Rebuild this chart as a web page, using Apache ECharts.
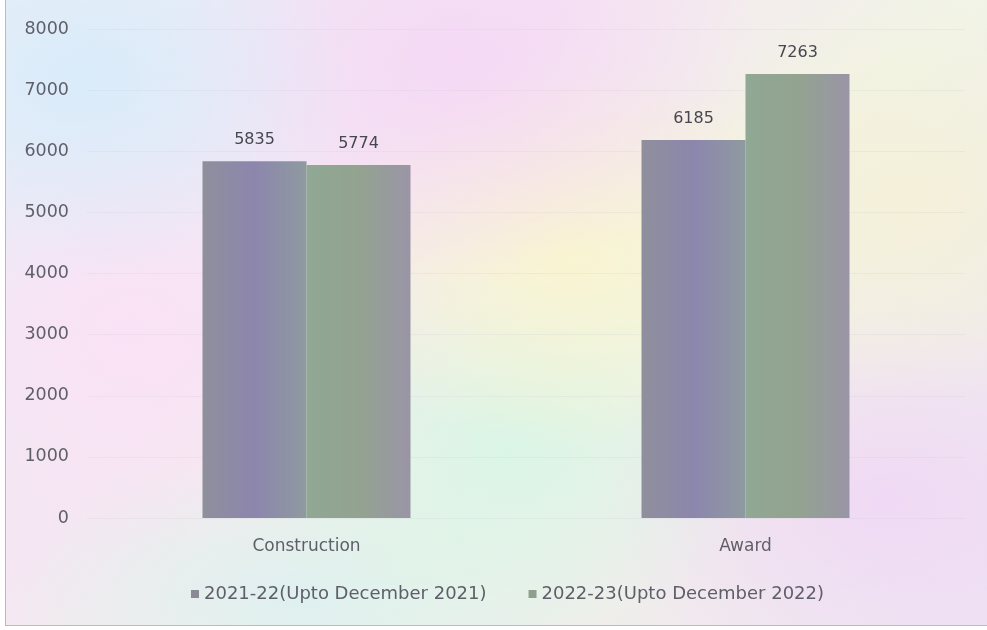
<!DOCTYPE html>
<html>
<head>
<meta charset="utf-8">
<script src="https://cdn.jsdelivr.net/npm/echarts@6/dist/echarts.min.js"></script>
<style>
html,body{margin:0;padding:0;width:987px;height:630px;overflow:hidden;background:#fff;}
#wrap{position:absolute;left:5px;top:0;width:981px;height:625px;border-left:1px solid #bbb;border-bottom:1px solid #bbb;
background:
 radial-gradient(ellipse 260px 200px at 80px 80px, rgba(215,235,250,0.9), rgba(215,235,250,0) 100%),
 radial-gradient(ellipse 300px 220px at 450px 60px, rgba(245,215,245,0.9), rgba(245,215,245,0) 100%),
 radial-gradient(ellipse 250px 200px at 560px 250px, rgba(250,245,205,0.9), rgba(250,245,205,0) 100%),
 radial-gradient(ellipse 250px 220px at 120px 330px, rgba(250,225,245,0.9), rgba(250,225,245,0) 100%),
 radial-gradient(ellipse 260px 200px at 500px 450px, rgba(215,245,230,0.9), rgba(215,245,230,0) 100%),
 radial-gradient(ellipse 260px 200px at 900px 200px, rgba(245,240,215,0.9), rgba(245,240,215,0) 100%),
 radial-gradient(ellipse 300px 200px at 880px 500px, rgba(240,215,245,0.9), rgba(240,215,245,0) 100%),
 radial-gradient(ellipse 300px 150px at 300px 600px, rgba(220,240,240,0.9), rgba(220,240,240,0) 100%),
 linear-gradient(135deg,#eaf0f8,#f5e6f3 35%,#f1f4e6 60%,#efe4f4);}
#chart{position:absolute;left:-5px;top:0;width:987px;height:630px;}
</style>
</head>
<body>
<div id="wrap"><div id="chart"></div></div>
<script>
const categories = ["Construction", "Award"];
const seriesNames = ["2021-22(Upto December 2021)", "2022-23(Upto December 2022)"];
const values2021 = [5835, 6185];
const values2022 = [5774, 7263];
const yTicks = [0, 1000, 2000, 3000, 4000, 5000, 6000, 7000, 8000];

const chart = echarts.init(document.getElementById('chart'), null, {renderer:'canvas'});
const txt = '#5f5f6a';
const font = '"DejaVu Sans", sans-serif';
const c1 = new echarts.graphic.LinearGradient(0,0,1,0,[
  {offset:0,color:'#8f8f9c'},{offset:0.5,color:'#8c86ad'},{offset:1,color:'#8f9aa0'}]);
const c2 = new echarts.graphic.LinearGradient(0,0,1,0,[
  {offset:0,color:'#90a894'},{offset:0.5,color:'#93a390'},{offset:1,color:'#9a95a6'}]);
chart.setOption({
  backgroundColor:'transparent',
  textStyle:{fontFamily:font},
  grid:{left:86,right:23,top:29,bottom:112},
  legend:{
    bottom:22,left:185,itemWidth:8,itemHeight:8,itemGap:42,icon:'rect',
    textStyle:{color:txt,fontSize:18,fontFamily:font},
    data:[{name:seriesNames[0],itemStyle:{color:'#8a8a96'}},{name:seriesNames[1],itemStyle:{color:'#8f9f8e'}}]
  },
  xAxis:{type:'category',data:categories,
    axisLine:{show:false},axisTick:{show:false},
    axisLabel:{color:txt,fontSize:17,margin:20,fontFamily:font}},
  yAxis:{type:'value',min:yTicks[0],max:yTicks[yTicks.length-1],interval:1000,
    axisLine:{show:false},axisTick:{show:false},
    splitLine:{lineStyle:{color:'rgba(200,200,210,0.2)'}},
    axisLabel:{color:txt,fontSize:17.5,margin:18,fontFamily:font,formatter:v=>String(v)}},
  series:[
    {name:seriesNames[0],type:'bar',data:values2021,barWidth:104,barGap:'0%',
     itemStyle:{color:c1},
     label:{show:true,position:'top',distance:13,color:'#47474f',fontSize:16,fontFamily:font}},
    {name:seriesNames[1],type:'bar',data:values2022,barWidth:104,
     itemStyle:{color:c2},
     label:{show:true,position:'top',distance:13,color:'#47474f',fontSize:16,fontFamily:font}}
  ]
});
</script>
</body>
</html>
